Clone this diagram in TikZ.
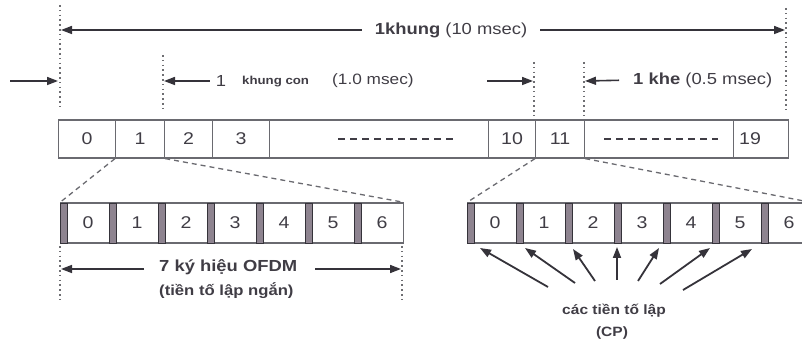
\documentclass[tikz,border=0pt]{standalone}
\usepackage{fontspec}
\setmainfont{Liberation Sans}[FakeStretch=1.15]
\usetikzlibrary{arrows.meta}
\definecolor{txt}{HTML}{403D45}
\definecolor{linec}{HTML}{6A6A70}
\definecolor{dotc}{HTML}{6E6E72}
\definecolor{cpf}{HTML}{8E8490}
\definecolor{arrc}{HTML}{35333A}
\tikzset{
  lbl/.style={text=txt, inner sep=0pt, font=\fontsize{16}{18}\selectfont},
  cell/.style={draw=linec, line width=1.2pt, minimum height=38pt, inner sep=0pt, anchor=west, text=txt, font=\fontsize{17}{17}\selectfont},
  scell/.style={draw=linec, line width=1.2pt, minimum height=40pt, minimum width=49pt, inner sep=0pt, anchor=west},
  digit/.style={text=txt, inner sep=0pt, font=\fontsize{17}{17}\selectfont},
  cpbar/.style={fill=cpf, draw=arrc, line width=0.8pt},
  dotline/.style={draw=dotc, line width=1.6pt, dash pattern=on 1.6pt off 3.2pt},
  zoomline/.style={draw=linec, line width=1.3pt, dash pattern=on 5pt off 4pt},
  filldash/.style={draw=txt, line width=1.3pt, dash pattern=on 7pt off 5pt},
  arr/.style={draw=arrc, line width=1.6pt, -{Triangle[length=11pt,width=8pt]}},
}
\begin{document}
\begin{tikzpicture}[x=1pt,y=-1pt]
\useasboundingbox (0,0) rectangle (802,344);
\clip (0,0) rectangle (802,344);

% dotted vertical guide lines
\coordinate (va1) at (60,5);   \coordinate (vb1) at (60,110);
\coordinate (va2) at (163,55); \coordinate (vb2) at (163,110);
\coordinate (va3) at (534,62); \coordinate (vb3) at (534,121);
\coordinate (va4) at (584,62); \coordinate (vb4) at (584,121);
\coordinate (va5) at (786,8);  \coordinate (vb5) at (786,112);
\foreach \k in {1,...,5} { \draw[dotline] (va\k) -- (vb\k); }

% top dimension: 1 khung
\node[lbl, inner xsep=13pt] (khung) at (451,30) {\textbf{1khung} (10 msec)};
\coordinate (kL) at (61,30);
\coordinate (kR) at (785,30);
\draw[arr] (khung.west) -- (kL);
\draw[arr] (khung.east) -- (kR);

% second row
\coordinate (s0) at (10,81);
\coordinate (s1) at (58,81);
\draw[arr] (s0) -- (s1);
\node[lbl] (one) at (221,81) {1};
\node[lbl, anchor=west, font=\fontsize{11.5}{13}\selectfont\bfseries] (kcon) at (242,82) {khung con};
\node[lbl, anchor=west, font=\fontsize{15}{17}\selectfont] (ms1) at (332,81) {(1.0 msec)};
\coordinate (s2) at (164,81);
\draw[arr, shorten <=6pt] (one.west) -- (s2);

\coordinate (r0) at (487,81);
\coordinate (r1) at (533,81);
\draw[arr] (r0) -- (r1);
\node[lbl, anchor=west] (khe) at (633,80) {\textbf{1 khe} (0.5 msec)};
\coordinate (r2) at (585,81);
\draw[arr, shorten <=14pt] (khe.west) -- (r2);

% top frame bar
\node[cell, minimum width=57pt] (t0) at (58,139) {0};
\node[cell, minimum width=49pt] (t1) at (115,139) {1};
\node[cell, minimum width=48pt] (t2) at (164,139) {2};
\node[cell, minimum width=57pt] (t3) at (212,139) {3};
\node[cell, minimum width=219pt] (td1) at (269,139) {};
\node[cell, minimum width=47pt] (t10) at (488,139) {10};
\node[cell, minimum width=49pt] (t11) at (535,139) {11};
\node[cell, minimum width=149pt] (td2) at (584,139) {};
\node[cell, minimum width=55pt] (t19) at (733,139) {};
\node[digit] (n19) at (750,139) {19};
\draw[filldash] (338,139) -- (454,139);
\draw[filldash] (604,139) -- (718,139);

% lower left slot (7 symbols)
\foreach \i in {0,...,6} {
  \node[scell] (L\i) at ({60+49*\i},223) {};
  \draw[cpbar] ({60+49*\i},203) rectangle ++(7,40);
  \node[digit] (Ld\i) at ({60+49*\i+28},223) {\i};
}
% lower right slot
\foreach \i in {0,...,6} {
  \node[scell] (R\i) at ({467+49*\i},223) {};
  \draw[cpbar] ({467+49*\i},203) rectangle ++(7,40);
  \node[digit] (Rd\i) at ({467+49*\i+28},223) {\i};
}

% zoom lines
\draw[zoomline] (t1.south west) -- (L0.north west);
\draw[zoomline] (t1.south east) -- (L6.north east);
\draw[zoomline] (t11.south west) -- (R0.north west);
\draw[zoomline] (t11.south east) -- (R6.north east);

% OFDM dimension
\coordinate (oa1) at (60,246); \coordinate (ob1) at (60,302);
\coordinate (oa2) at (402,246); \coordinate (ob2) at (402,302);
\draw[dotline] (oa1) -- (ob1);
\draw[dotline] (oa2) -- (ob2);
\node[lbl, anchor=west, font=\fontsize{16}{18}\selectfont\bfseries] (ofdm1) at (159,267) {7 ký hiệu OFDM};
\node[lbl, anchor=west, font=\fontsize{14.5}{17}\selectfont\bfseries] (ofdm2) at (159,291) {(tiền tố lập ngắn)};
\coordinate (oL) at (61,269);
\coordinate (oR) at (401,269);
\draw[arr, shorten <=15pt] (ofdm1.west |- oL) -- (oL);
\draw[arr, shorten <=18pt] (ofdm1.east |- oR) -- (oR);

% CP arrows
\node[lbl, font=\fontsize{13.5}{15}\selectfont\bfseries] (cp1) at (614,311) {các tiền tố lập};
\node[lbl, font=\fontsize{13.5}{15}\selectfont\bfseries] (cp2) at (612,333) {(CP)};
\coordinate (h1) at (480,248); \coordinate (b1) at (548,287);
\coordinate (h2) at (525,248); \coordinate (b2) at (575,283);
\coordinate (h3) at (573,249); \coordinate (b3) at (595,281);
\coordinate (h4) at (617,247); \coordinate (b4) at (617,280);
\coordinate (h5) at (659,248); \coordinate (b5) at (638,281);
\coordinate (h6) at (710,248); \coordinate (b6) at (660,284);
\coordinate (h7) at (752,249); \coordinate (b7) at (683,290);
\foreach \k in {1,...,7} { \draw[arr, line width=1.8pt] (b\k) -- (h\k); }
\end{tikzpicture}
\end{document}
